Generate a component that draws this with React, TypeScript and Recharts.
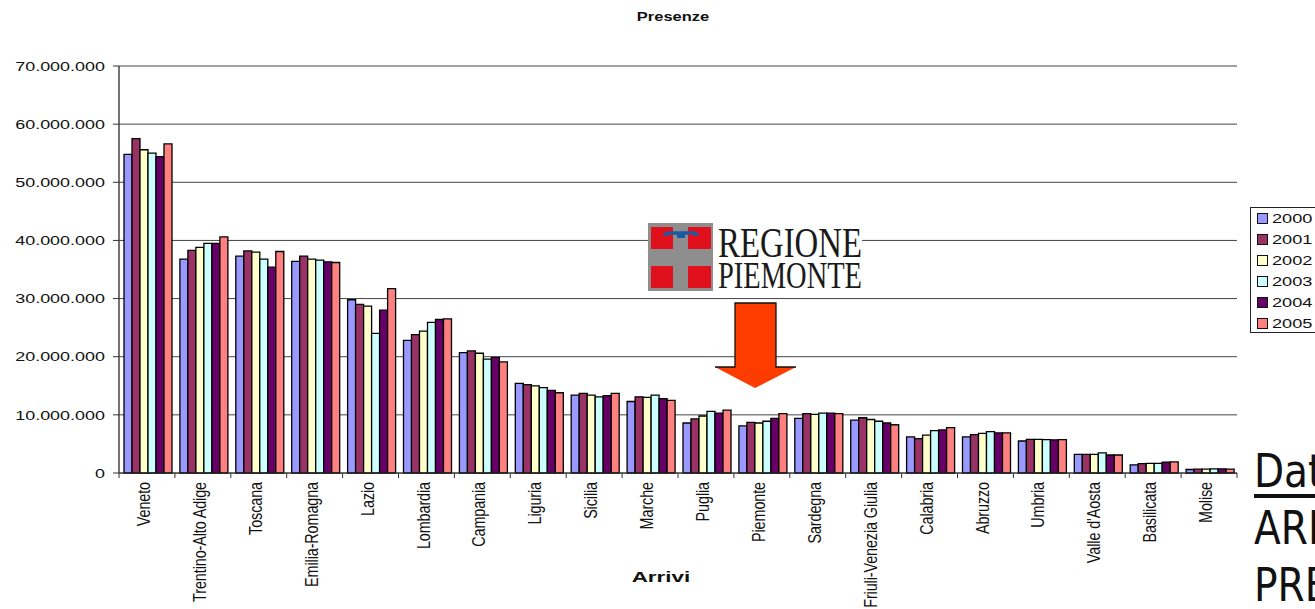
import React from 'react';
import { BarChart, Bar, XAxis, YAxis, CartesianGrid, Legend } from 'recharts';

const regions = ['Veneto', 'Trentino-Alto Adige', 'Toscana', 'Emilia-Romagna', 'Lazio', 'Lombardia', 'Campania', 'Liguria', 'Sicilia', 'Marche', 'Puglia', 'Piemonte', 'Sardegna', 'Friuli-Venezia Giulia', 'Calabria', 'Abruzzo', 'Umbria', "Valle d'Aosta", 'Basilicata', 'Molise'];

// values in millions of presenze
const y2000 = [54.8, 36.8, 37.3, 36.4, 29.8, 22.8, 20.7, 15.4, 13.4, 12.3, 8.6, 8.1, 9.4, 9.1, 6.2, 6.2, 5.5, 3.2, 1.4, 0.6];
const y2001 = [57.5, 38.3, 38.2, 37.3, 29.0, 23.8, 21.0, 15.2, 13.7, 13.1, 9.3, 8.7, 10.2, 9.5, 5.9, 6.6, 5.8, 3.2, 1.6, 0.65];
const y2002 = [55.6, 38.8, 38.0, 36.8, 28.7, 24.4, 20.6, 15.0, 13.4, 13.0, 9.8, 8.6, 10.1, 9.2, 6.5, 6.8, 5.8, 3.2, 1.65, 0.65];
const y2003 = [55.0, 39.5, 36.8, 36.6, 24.0, 25.9, 19.6, 14.7, 13.1, 13.4, 10.6, 8.9, 10.3, 8.9, 7.3, 7.1, 5.75, 3.45, 1.65, 0.7];
const y2004 = [54.4, 39.5, 35.4, 36.3, 28.0, 26.4, 19.9, 14.2, 13.3, 12.8, 10.3, 9.4, 10.3, 8.6, 7.4, 6.9, 5.7, 3.1, 1.85, 0.7];
const y2005 = [56.6, 40.6, 38.1, 36.2, 31.7, 26.5, 19.1, 13.8, 13.7, 12.5, 10.8, 10.2, 10.2, 8.3, 7.8, 6.9, 5.75, 3.1, 1.9, 0.65];

const years = ['2000', '2001', '2002', '2003', '2004', '2005'];
const seriesValues = [y2000, y2001, y2002, y2003, y2004, y2005];
const colors = ['#9999ff', '#993366', '#ffffcc', '#ccffff', '#660066', '#ff8080'];
const yTicks = [0, 10, 20, 30, 40, 50, 60, 70];

const tableData = regions.map((name, i) => {
    const row: Record<string, string | number> = { name };
    years.forEach((year, s) => {
        row[year] = seriesValues[s][i];
    });
    return row;
});

const FONT = '"Liberation Sans", Arial, sans-serif';
const BAND = (1237 - 119) / regions.length;

const ValueTick = (props: any) => {
    const label = props.payload.value === 0 ? '0' : `${props.payload.value}.000.000`;
    return (
        <text transform={`translate(${props.x},${props.y}) scale(1.33,1)`} textAnchor="end" dominantBaseline="central" fontFamily={FONT} fontSize={13.5} fill="#111">
            {label}
        </text>
    );
};

const RegionTick = (props: any) => {
    const { x, index, payload } = props;
    return (
        <g>
            <line x1={x - BAND / 2} x2={x - BAND / 2} y1={473} y2={478} stroke="#333" />
            {index === regions.length - 1 && <line x1={x + BAND / 2} x2={x + BAND / 2} y1={473} y2={478} stroke="#333" />}
            <text transform={`translate(${x - 3.5},482) rotate(-90) scale(1,1.25)`} textAnchor="end" dominantBaseline="central" fontFamily={FONT} fontSize={14.4} letterSpacing={-0.1} fill="#111">
                {payload.value}
            </text>
        </g>
    );
};

const YearLegend = () => (
    <div style={{ width: 80, height: 126, boxSizing: 'border-box', border: '1px solid #222', background: '#fff', position: 'relative' }}>
        {years.map((year, i) => (
            <div key={year} style={{ position: 'absolute', left: 6, top: 4 + i * 21, height: 12, display: 'flex', alignItems: 'center' }}>
                <span style={{ display: 'inline-block', width: 9, height: 9, border: '1px solid #111', background: colors[i] }} />
                <span style={{ marginLeft: 4, fontFamily: FONT, fontSize: 13.2, color: '#111', transform: 'scaleX(1.38)', transformOrigin: 'left center' }}>{year}</span>
            </div>
        ))}
    </div>
);

const WideLabel = ({ left, top, text, sx, size }: { left: number; top: number; text: string; sx: number; size: number }) => (
    <div style={{ position: 'absolute', left, top, transform: `translate(-50%,-50%) scaleX(${sx})`, fontFamily: FONT, fontWeight: 'bold', fontSize: size, color: '#111', whiteSpace: 'nowrap' }}>
        {text}
    </div>
);

const Logo = () => (
    <svg width={1315} height={609} style={{ position: 'absolute', left: 0, top: 0, pointerEvents: 'none' }}>
        <rect x={713} y={223} width={149} height={68} fill="#fff" />
        <rect x={648} y={223} width={65} height={68} fill="#8e8e8e" />
        <rect x={651} y={227} width={22} height={22} fill="#e0101c" />
        <rect x={688} y={227} width={23} height={22} fill="#e0101c" />
        <rect x={651} y={266} width={22} height={22} fill="#e0101c" />
        <rect x={688} y={266} width={23} height={22} fill="#e0101c" />
        <path d="M665 236 Q665 233 670 233 L692 233 Q697 233 697 236" fill="none" stroke="#1a5aa0" strokeWidth={3.5} />
        <rect x={677} y={233} width={8} height={5} fill="#1a5aa0" />
        <text x={718} y={257} fontFamily='"Liberation Serif", serif' fontSize={43} textLength={144} lengthAdjust="spacingAndGlyphs" fill="#1a1a1a">REGIONE</text>
        <text x={718} y={288} fontFamily='"Liberation Serif", serif' fontSize={37} textLength={144} lengthAdjust="spacingAndGlyphs" fill="#1a1a1a">PIEMONTE</text>
        <polygon points="735,303 776,303 776,367 796,367 755,388 715,367 735,367" fill="#ff3c00" />
        <polyline points="715,367 735,367 735,303 776,303 776,367 796,367" fill="none" stroke="#111" strokeWidth={1.3} />
    </svg>
);

const SideNote = () => (
    <div style={{ position: 'absolute', left: 1254, top: 443, transform: 'scaleX(0.85)', transformOrigin: 'left top', fontFamily: '"Comic Sans MS", "DejaVu Sans", sans-serif', fontSize: 46, lineHeight: '57px', color: '#111', whiteSpace: 'nowrap' }}>
        <div style={{ textDecoration: 'underline', textDecorationThickness: 4, textUnderlineOffset: 7 }}>Dati</div>
        <div>ARRIVI</div>
        <div>PRESENZE</div>
    </div>
);

const App: React.FC = () => {
    return (
        <div style={{ position: 'absolute', left: 0, top: 0, width: 1315, height: 609, overflow: 'hidden', background: '#fff' }}>
            <BarChart width={1315} height={609} data={tableData} margin={{ top: 66, right: 78, bottom: 0, left: 0 }} barGap={0} barCategoryGap={5}>
                <CartesianGrid vertical={false} stroke="#444" />
                <XAxis dataKey="name" interval={0} height={136} tickLine={false} axisLine={{ stroke: '#333' }} tick={<RegionTick />} />
                <YAxis width={119} domain={[0, 70]} ticks={yTicks} interval={0} tickSize={6} tickMargin={8} axisLine={{ stroke: '#444', strokeWidth: 1.5 }} tickLine={{ stroke: '#333' }} tick={<ValueTick />} />
                <YAxis yAxisId="right" orientation="right" width={0} domain={[0, 70]} tick={false} tickLine={false} axisLine={{ stroke: '#a8a8a8', strokeWidth: 1.5 }} />
                {years.map((year, i) => (
                    <Bar key={year} dataKey={year} fill={colors[i]} stroke="#000" strokeWidth={1.3} isAnimationActive={false} />
                ))}
                <Legend layout="vertical" align="center" verticalAlign="middle" content={<YearLegend />} wrapperStyle={{ position: 'absolute', left: 1250, top: 207, width: 80, height: 126 }} />
            </BarChart>
            <WideLabel left={672.5} top={16} text="Presenze" sx={1.22} size={13.5} />
            <WideLabel left={661} top={577} text="Arrivi" sx={1.55} size={14.5} />
            <Logo />
            <SideNote />
        </div>
    );
};

export default App;
